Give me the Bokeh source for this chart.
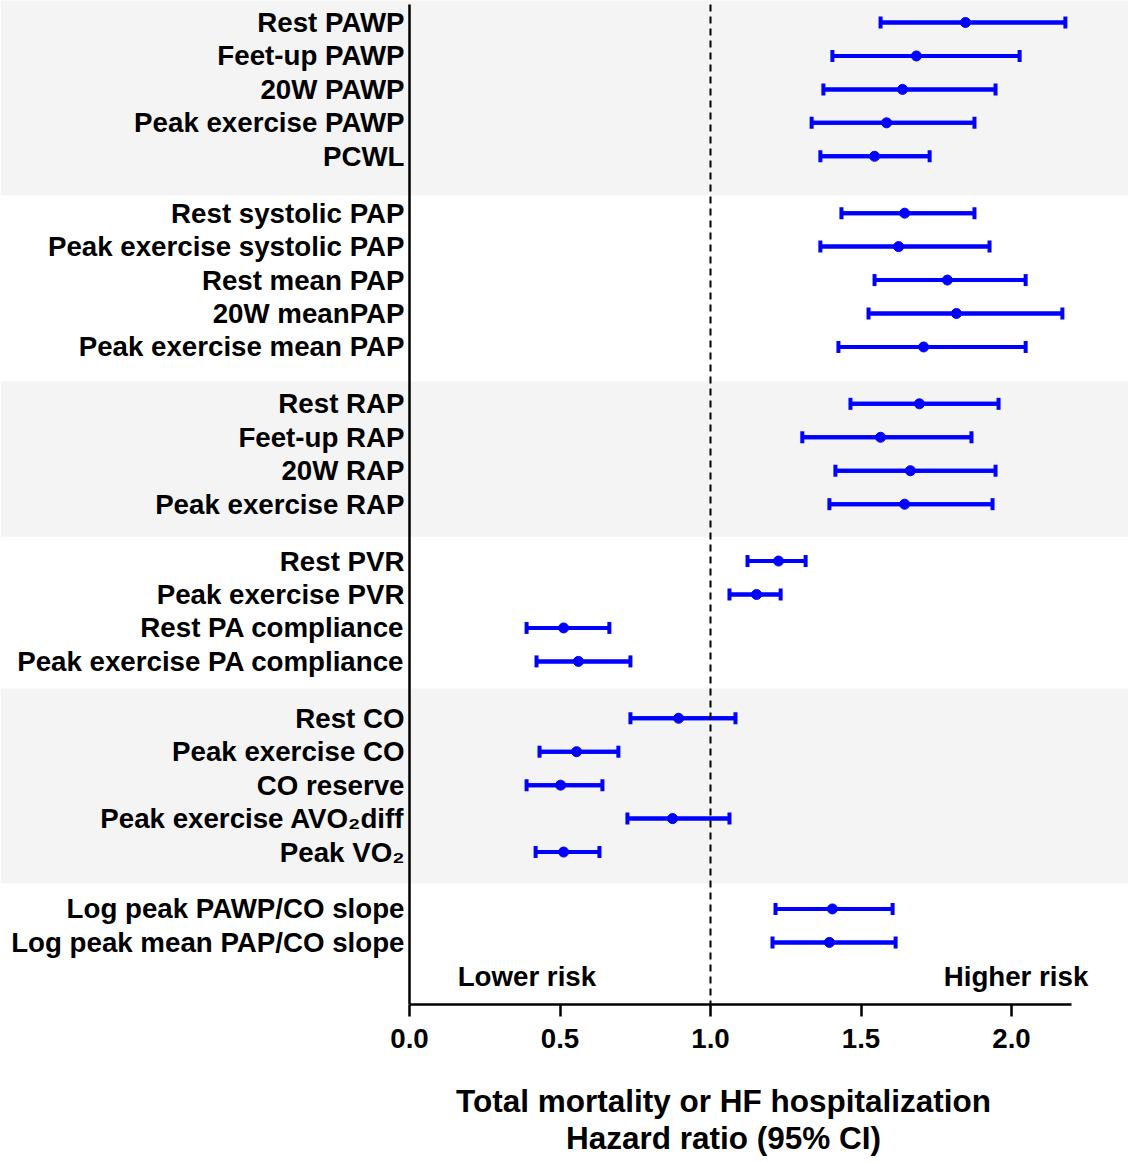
from bokeh.plotting import figure
from bokeh.layouts import column
from bokeh.models import (ColumnDataSource, Range1d, FixedTicker, Whisker, TeeHead,
                          BoxAnnotation, NumeralTickFormatter)
from bokeh.core.properties import value
from bokeh.embed import file_html
from bokeh.resources import INLINE

# ---------------- data ----------------
names = ["Rest PAWP", "Feet-up PAWP", "20W PAWP", "Peak exercise PAWP", "PCWL",
         "Rest systolic PAP", "Peak exercise systolic PAP", "Rest mean PAP", "20W meanPAP",
         "Peak exercise mean PAP",
         "Rest RAP", "Feet-up RAP", "20W RAP", "Peak exercise RAP",
         "Rest PVR", "Peak exercise PVR", "Rest PA compliance", "Peak exercise PA compliance",
         "Rest CO", "Peak exercise CO", "CO reserve", "Peak exercise AVO\u2082diff", "Peak VO\u2082",
         "Log peak PAWP/CO slope", "Log peak mean PAP/CO slope"]
groups = [0, 0, 0, 0, 0,
          1, 1, 1, 1, 1,
          2, 2, 2, 2,
          3, 3, 3, 3,
          4, 4, 4, 4, 4,
          5, 5]
hr = [1.847, 1.684, 1.638, 1.585, 1.545,
      1.645, 1.625, 1.787, 1.817, 1.708,
      1.694, 1.565, 1.664, 1.645,
      1.226, 1.153, 0.512, 0.561,
      0.894, 0.555, 0.502, 0.874, 0.512,
      1.405, 1.395]
lo = [1.565, 1.405, 1.375, 1.336, 1.365,
      1.435, 1.365, 1.545, 1.525, 1.425,
      1.465, 1.305, 1.415, 1.395,
      1.123, 1.063, 0.389, 0.422,
      0.734, 0.432, 0.389, 0.724, 0.419,
      1.216, 1.206]
hi = [2.179, 2.027, 1.947, 1.877, 1.728,
      1.877, 1.927, 2.047, 2.169, 2.047,
      1.957, 1.867, 1.947, 1.937,
      1.316, 1.233, 0.664, 0.734,
      1.083, 0.694, 0.641, 1.063, 0.631,
      1.605, 1.615]
x_ticks = [0.0, 0.5, 1.0, 1.5, 2.0]
x_max = 2.2
null_hr = 1.0
shaded_groups = [0, 2, 4]
risk_labels = ["Lower risk", "Higher risk"]
x_title = ["Total mortality or HF hospitalization", "Hazard ratio (95% CI)"]

# ---------------- layout / style ----------------
W, H = 1128, 1162
MAIN_H = 1064           # main figure height; title strip below
AXIS_LEFT_PX = 409      # pixel where HR = 0 sits
PX_PER_UNIT = 301       # pixels per HR unit
FRAME_BOTTOM = 1004
ROW_PX = 33.45
FIRST_ROW_PX = 22
GAP = 0.7
BAND_PAD_TOP = [0.8, 0.67, 0.89]
BAND_PAD_BOTTOM = [1.17, 0.97, 0.94]
FONT = "Liberation Sans"
FS = "27.7px"
BLUE = "#0000ff"

ypos = [i + GAP * g for i, g in enumerate(groups)]
y_top = -FIRST_ROW_PX / ROW_PX
y_bot = ypos[-1] + (FRAME_BOTTOM - (FIRST_ROW_PX + ypos[-1] * ROW_PX)) / ROW_PX

p = figure(width=W, height=MAIN_H, output_backend="svg", toolbar_location=None,
           x_range=Range1d(-AXIS_LEFT_PX / PX_PER_UNIT, (W - AXIS_LEFT_PX) / PX_PER_UNIT),
           y_range=Range1d(y_bot, y_top), y_axis_location=None,
           min_border_left=0, min_border_right=0, min_border_top=0,
           min_border_bottom=MAIN_H - FRAME_BOTTOM)
p.outline_line_color = None
p.grid.visible = False
p.background_fill_color = "white"
p.border_fill_color = "white"

# shaded bands across the whole width
for g, pt, pb in zip(shaded_groups, BAND_PAD_TOP, BAND_PAD_BOTTOM):
    ys = [y for y, gg in zip(ypos, groups) if gg == g]
    p.add_layout(BoxAnnotation(top=min(ys) - pt, bottom=max(ys) + pb,
                               fill_color="#f4f4f4", fill_alpha=1.0, line_color=None,
                               line_alpha=0, level="underlay"))

# y axis line (at HR = 0)
axis_top = y_top + 4 / ROW_PX
p.segment(x0=[0], x1=[0], y0=[axis_top], y1=[y_bot], line_color="black", line_width=2.5)

# row labels
p.text(x=[0] * len(names), y=ypos, text=names, x_offset=-5,
       text_align="right", text_baseline="middle", text_font=value(FONT),
       text_font_style="bold", text_font_size=FS, text_color="black")

# error bars
src = ColumnDataSource(dict(y=ypos, hr=hr, lo=lo, hi=hi))
p.segment(x0="lo", x1="hi", y0="y", y1="y", source=src, line_color=BLUE, line_width=4)
p.add_layout(Whisker(base="y", lower="lo", upper="hi", dimension="width", source=src,
                     line_color=BLUE, line_width=4,
                     lower_head=TeeHead(size=12, line_color=BLUE, line_width=4),
                     upper_head=TeeHead(size=12, line_color=BLUE, line_width=4)))
p.scatter(x="hr", y="y", source=src, size=10, fill_color=BLUE, line_color=BLUE)

# null reference line
p.segment(x0=[null_hr], x1=[null_hr], y0=[axis_top], y1=[y_bot], line_color="black",
          line_width=2, line_dash="7 5")

# risk labels
risk_y = ypos[-1] + 1.02
p.text(x=[0.39, 2.015], y=[risk_y, risk_y], text=risk_labels, text_align="center",
       text_baseline="middle", text_font=value(FONT), text_font_style="bold",
       text_font_size=FS, text_color="black")

# x axis
xa = p.xaxis[0]
xa.bounds = (0, x_max)
xa.ticker = FixedTicker(ticks=x_ticks)
xa.formatter = NumeralTickFormatter(format="0.0")
xa.minor_tick_line_color = None
xa.major_tick_out = 12
xa.major_tick_in = 0
xa.major_tick_line_width = 2.5
xa.axis_line_width = 2.5
xa.major_label_standoff = 12
xa.major_label_text_font = FONT
xa.major_label_text_font_style = "bold"
xa.major_label_text_font_size = FS
xa.major_label_text_color = "black"

# axis title strip (two centred lines)
TH = H - MAIN_H
t = figure(width=W, height=TH, output_backend="svg", toolbar_location=None,
           x_range=Range1d(0, W), y_range=Range1d(TH, 0),
           x_axis_location=None, y_axis_location=None,
           min_border_left=0, min_border_right=0, min_border_top=0, min_border_bottom=0)
t.outline_line_color = None
t.grid.visible = False
t.border_fill_color = "white"
TITLE_X = 723
title_y = [1100 - MAIN_H, 1137 - MAIN_H]
t.text(x=[TITLE_X] * len(x_title), y=title_y, text=x_title, text_align="center",
       text_baseline="middle", text_font=value(FONT), text_font_style="bold",
       text_font_size="31.5px", text_color="black")

open("out.html", "w").write(file_html(column(p, t, spacing=0), INLINE))
